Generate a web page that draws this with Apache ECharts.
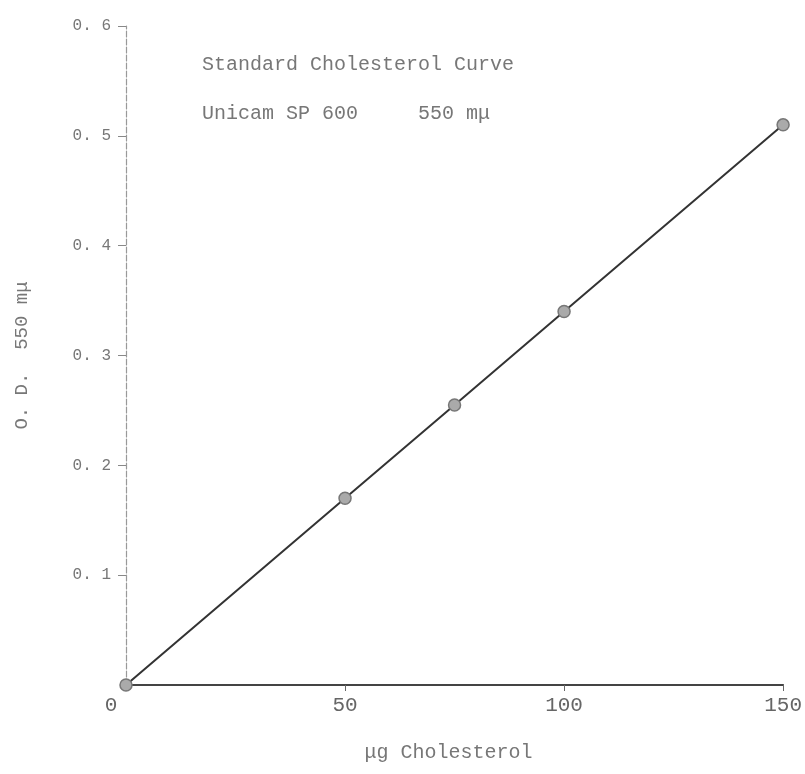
<!DOCTYPE html>
<html>
<head>
<meta charset="utf-8">
<script src="https://cdn.jsdelivr.net/npm/echarts@6/dist/echarts.min.js"></script>
<style>
  html, body { margin: 0; padding: 0; background: #fff; }
  #chart { width: 805px; height: 774px; }
</style>
</head>
<body>
<div id="chart"></div>
<script>
// Standard cholesterol calibration: optical density at 550 mμ vs. μg cholesterol
const cholesterolUg = [0, 50, 75, 100, 150];
const opticalDensity = [0, 0.17, 0.255, 0.34, 0.51];
const xTicks = [0, 50, 100, 150];
const yTicks = [0.1, 0.2, 0.3, 0.4, 0.5, 0.6];

const points = cholesterolUg.map((x, i) => [x, opticalDensity[i]]);

const typewriter = 'Liberation Mono';

const chart = echarts.init(document.getElementById('chart'));
chart.setOption({
  backgroundColor: '#ffffff',
  animation: false,
  grid: { left: 126, right: 14, top: 26, bottom: 89 },
  title: [
    {
      text: 'Standard Cholesterol Curve',
      left: 197, top: 50,
      textStyle: { fontFamily: typewriter, fontWeight: 'normal', fontSize: 20, color: '#777' }
    },
    {
      text: 'Unicam SP 600     550 mμ',
      left: 197, top: 99,
      textStyle: { fontFamily: typewriter, fontWeight: 'normal', fontSize: 20, color: '#777' }
    }
  ],
  xAxis: {
    type: 'value',
    min: 0, max: 150, interval: 50,
    name: 'μg Cholesterol',
    nameLocation: 'middle',
    nameGap: 58,
    nameTextStyle: { fontFamily: typewriter, fontSize: 20, color: '#777', padding: [0, 12, 0, 0] },
    axisLine: { show: true, onZero: false, lineStyle: { color: '#444', width: 2 } },
    axisTick: { show: true, length: 6, lineStyle: { color: '#666', width: 1 } },
    splitLine: { show: false },
    axisLabel: {
      margin: 10,
      fontFamily: typewriter, fontSize: 21, color: '#666',
      formatter: v => (xTicks.includes(v) ? (v === 0 ? '{z|0}' : String(v)) : ''),
      rich: { z: { fontFamily: typewriter, fontSize: 21, color: '#666', padding: [0, 30, 0, 0] } }
    }
  },
  yAxis: {
    type: 'value',
    min: 0, max: 0.6, interval: 0.1,
    name: 'O. D.  550 mμ',
    nameLocation: 'middle',
    nameGap: 95,
    nameRotate: 90,
    nameTextStyle: { fontFamily: typewriter, fontSize: 19, color: '#777' },
    axisLine: { show: true, onZero: false, lineStyle: { color: '#999', width: 1.2, type: [6, 2] } },
    axisTick: { show: true, length: 8, lineStyle: { color: '#888', width: 1 } },
    splitLine: { show: false },
    axisLabel: {
      showMinLabel: false,
      margin: 15,
      fontFamily: typewriter, fontSize: 16, color: '#777',
      formatter: v => {
        const r = Math.round(v * 10) / 10;
        return yTicks.some(t => Math.abs(t - r) < 1e-9) ? r.toFixed(1).replace('.', '. ') : '';
      }
    }
  },
  series: [{
    type: 'line',
    data: points,
    symbol: 'circle',
    symbolSize: 12,
    lineStyle: { color: '#333', width: 2 },
    itemStyle: { color: '#aaa', borderColor: '#777', borderWidth: 1.5 },
    z: 3
  }]
});
</script>
</body>
</html>
